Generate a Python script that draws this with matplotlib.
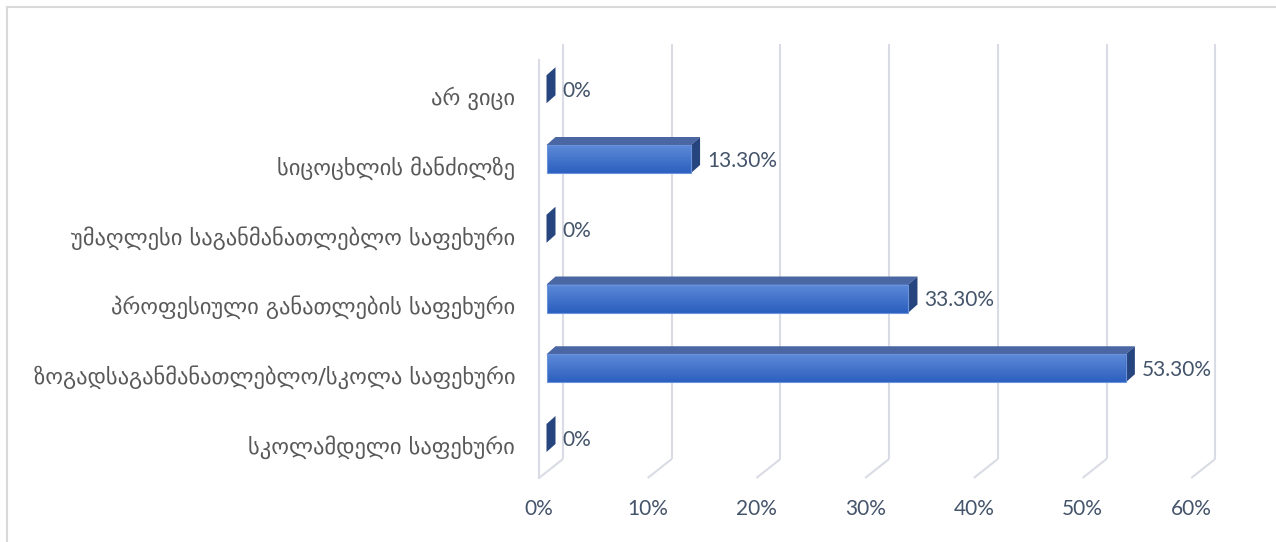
#!/usr/bin/env python
# horizontal 3D-style bar chart, Excel look
import numpy as np
import matplotlib
matplotlib.use('Agg')
import matplotlib.pyplot as plt
from matplotlib.patches import Polygon
from matplotlib.lines import Line2D

#------------------------------
categories = ['სკოლამდელი საფეხური',
              'ზოგადსაგანმანათლებლო/სკოლა საფეხური',
              'პროფესიული განათლების საფეხური',
              'უმაღლესი საგანმანათლებლო საფეხური',
              'სიცოცხლის მანძილზე',
              'არ ვიცი']
values = [0.0, 53.3, 33.3, 0.0, 13.3, 0.0]
value_labels = ['0%', '53.30%', '33.30%', '0%', '13.30%', '0%']
ticks = [0, 10, 20, 30, 40, 50, 60]
tick_labels = ['0%', '10%', '20%', '30%', '40%', '50%', '60%']
#------------------------------

W, H = 1276, 542
PX = 10.87     # pixels per percent
X0 = 539       # pixel x of 0% on the front floor edge
ROW = 69.75    # pixels between category rows
Y0 = 438       # pixel y (from top) of the first bar centre

def dx(p) :
    return p / PX

def yp(p) :
    # pixel y from top -> data y
    return (Y0 - p) / ROW

GRID = '#D9DCE4'
TXT = '#595959'
NUM = '#44546A'
TOP_FACE = '#4A66A3'
SIDE_FACE = '#26457F'
FRONT_TOP = np.array([0x5E, 0x8A, 0xD8]) / 255.
FRONT_BOT = np.array([0x2C, 0x60, 0xBF]) / 255.

fig = plt.figure(figsize=(W/100., H/100.), dpi=100)
ax = fig.add_axes([0, 0, 1, 1])
ax.axis('off')

# floor + back wall gridlines
yf, yb, ytop = yp(478), yp(459), yp(44)
for t in ticks :
    ax.plot([t, t + dx(24)], [yf, yb], color=GRID, lw=1.5, zorder=1, solid_capstyle='butt')
    ax.plot([t + dx(24)] * 2, [yb, ytop], color=GRID, lw=1.5, zorder=1, solid_capstyle='butt')
ax.plot([0, 0], [yf, yp(60)], color=GRID, lw=1.5, zorder=1)

# bars
bx = dx(7.5)
h = 28. / ROW
ddx, ddy = dx(9), 8. / ROW
grad = np.linspace(0, 1, 256)[:, None, None]
grad = FRONT_TOP * (1 - grad) + FRONT_BOT * grad
for i, v in enumerate(values) :
    lo, hi = i - h/2, i + h/2
    if v > 0 :
        ax.add_patch(Polygon([(bx, lo), (bx + v, lo), (bx + v, hi), (bx, hi)],
                             closed=True, fc=FRONT_BOT, ec='none', zorder=2.9))
        ax.imshow(grad, extent=[bx, bx + v, lo, hi], origin='upper',
                  aspect='auto', interpolation='nearest', zorder=3)
        ax.add_patch(Polygon([(bx, lo), (bx + v, lo), (bx + v, hi), (bx, hi)],
                             closed=True, fill=False, ec='#6B93DB', lw=0.8, zorder=4))
        ax.add_patch(Polygon([(bx, hi), (bx + v, hi), (bx + v + ddx, hi + ddy), (bx + ddx, hi + ddy)],
                             closed=True, fc=TOP_FACE, ec='none', zorder=3))
    ax.add_patch(Polygon([(bx + v, lo), (bx + v + ddx, lo + ddy), (bx + v + ddx, hi + ddy), (bx + v, hi)],
                         closed=True, fc=SIDE_FACE, ec='none', zorder=3))
    ax.text(bx + v + ddx + dx(7), i - 2. / ROW, value_labels[i], ha='left', va='center',
            color=NUM, fontsize=15, family=['Lato', 'DejaVu Sans'], zorder=5)
    ax.text(dx(-24), i - 9. / ROW, categories[i], ha='right', va='center',
            color=TXT, fontsize=16.2, family=['DejaVu Sans'], zorder=5)

for t, lab in zip(ticks, tick_labels) :
    ax.text(t, yp(509), lab, ha='center', va='center', color=NUM,
            fontsize=15, family=['Lato', 'DejaVu Sans'])

ax.set_xlim(-X0 / PX, (W - X0) / PX)
ax.set_ylim(yp(H), yp(0))

# chart border (runs off the right and bottom of the picture)
fig.add_artist(Line2D([7. / W, 1.0], [1 - 7. / H] * 2, transform=fig.transFigure, color='#D9D9D9', lw=1.5))
fig.add_artist(Line2D([7. / W] * 2, [1 - 7. / H, 0.0], transform=fig.transFigure, color='#D9D9D9', lw=1.5))

fig.savefig('out.png', dpi=100, facecolor='white')
